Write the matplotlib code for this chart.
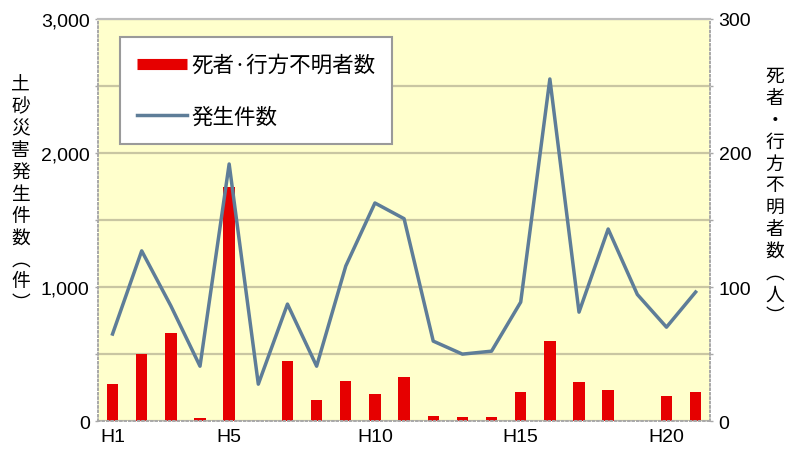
#!/usr/bin/env python3
"""土砂災害発生件数 (line, left axis) and 死者・行方不明者数 (bars, right axis), H1-H21."""

import matplotlib

matplotlib.use("Agg")
import matplotlib.pyplot as plt
from matplotlib.ticker import FixedLocator, FuncFormatter

plt.rcParams["font.family"] = ["Liberation Sans", "Noto Sans CJK JP", "DejaVu Sans"]
CJK = ["Noto Sans CJK JP", "DejaVu Sans"]

# --- data ---
years = ["H%d" % i for i in range(1, 22)]
tick_years = ["H1", "H5", "H10", "H15", "H20"]
occurrences = [650, 1270, 860, 410, 1918, 276, 873, 410, 1157, 1627,
               1510, 597, 500, 522, 888, 2552, 813, 1433, 945, 701, 963]
casualties = [28, 50, 66, 2, 175, 0, 45, 16, 30, 20,
              33, 4, 3, 3, 22, 60, 29, 23, 0, 19, 22]

BG = "#FFFFCC"
LINE_C = "#5E7D98"
BAR_C = "#E60000"
GRID_C = "#C9C6A2"
SPINE_C = "#A8A8A8"

fig = plt.figure(figsize=(7.9, 4.52), dpi=100)
ax2 = fig.add_axes([0.124, 0.066, 0.775, 0.890])  # bars, right scale (drawn below)
ax = ax2.twinx()                                   # line, placed on the left
ax.yaxis.tick_left()
ax.yaxis.set_label_position("left")
ax2.yaxis.tick_right()
ax2.yaxis.set_label_position("right")

x = list(range(len(years)))

ax2.set_facecolor(BG)
ax2.bar(x, casualties, width=0.39, color=BAR_C, zorder=2)
ax2.set_ylim(0, 300)
ax2.yaxis.set_major_locator(FixedLocator([0, 100, 200, 300]))
ax2.yaxis.set_minor_locator(FixedLocator([50, 150, 250]))
ax2.grid(True, which="both", axis="y", color=GRID_C, linewidth=1.6, zorder=0)
ax2.set_axisbelow(True)

ax.plot(x, occurrences, color=LINE_C, linewidth=2.5, zorder=3)
ax.set_ylim(0, 3000)
ax.yaxis.set_major_locator(FixedLocator([0, 1000, 2000, 3000]))
ax.yaxis.set_minor_locator(FixedLocator([500, 1500, 2500]))
ax.yaxis.set_major_formatter(FuncFormatter(lambda v, _: "{:,.0f}".format(v)))

ax2.set_xlim(-0.5, len(years) - 0.5)
ax2.set_xticks([years.index(t) for t in tick_years])
ax2.set_xticklabels(tick_years)

for a in (ax, ax2):
    a.tick_params(axis="both", which="both", length=2, width=1, color=SPINE_C,
                  labelsize=14, pad=4)
    for side in ("left", "right", "bottom"):
        a.spines[side].set_color(SPINE_C)
        a.spines[side].set_linestyle(":")
        a.spines[side].set_linewidth(1.2)
    a.spines["top"].set_color("#BDBDBD")
    a.spines["top"].set_linewidth(1.5)
ax2.tick_params(axis="x", length=0, pad=5)

# vertical (stacked) axis titles
fig.text(0.026, 0.57, "\n".join("土砂災害発生件数︵件︶"), ha="center", va="center",
         fontsize=13.5, linespacing=1.05, family=CJK)
fig.text(0.981, 0.565, "\n".join("死者・行方不明者数︵人︶"), ha="center", va="center",
         fontsize=13.5, linespacing=1.05, family=CJK)

# legend
h_bar = plt.Line2D([], [], color=BAR_C, linewidth=8, solid_capstyle="butt")
h_line = plt.Line2D([], [], color=LINE_C, linewidth=2.5)
leg = ax.legend([h_bar, h_line], ["死者·行方不明者数", "発生件数"],
                loc="upper left", bbox_to_anchor=(0.036, 0.955),
                prop={"family": CJK, "size": 15.5},
                frameon=True, fancybox=False, borderpad=0.8, labelspacing=1.35,
                handlelength=2.3, handletextpad=0.2, borderaxespad=0)
leg.get_frame().set_edgecolor("#9A9A9A")
leg.get_frame().set_linewidth(1.5)
leg.get_frame().set_facecolor("white")
leg.get_frame().set_alpha(1)

fig.savefig("out.png", dpi=100)
